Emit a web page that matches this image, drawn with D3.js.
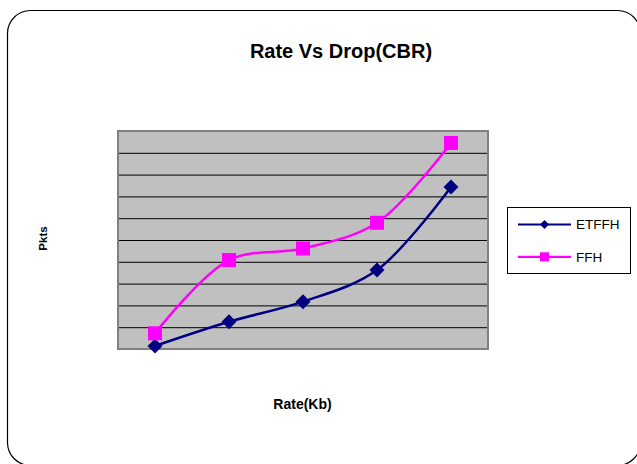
<!DOCTYPE html>
<html>
<head>
<meta charset="utf-8">
<script src="https://cdn.jsdelivr.net/npm/d3@7"></script>
<style>
  html, body { margin: 0; padding: 0; background: #fff; }
  svg { display: block; font-family: Arial, "Liberation Sans", sans-serif; }
</style>
</head>
<body>
<svg id="chart" width="637" height="464"></svg>
<script>
// Rate vs packet drop, CBR traffic
const rates = ["R1", "R2", "R3", "R4", "R5"];
const etffh = [0.14, 1.25, 2.17, 3.62, 7.43];
const ffh = [0.72, 4.08, 4.61, 5.79, 9.45];
const yDomain = [0, 10];
const gridCount = 10;

const series = [
  { name: "ETFFH", values: etffh, color: "#000080", marker: "diamond" },
  { name: "FFH", values: ffh, color: "#FF00FF", marker: "square" }
];

const svg = d3.select("#chart");

// outer rounded frame
svg.append("rect")
  .attr("x", 7.5).attr("y", 10.5)
  .attr("width", 633).attr("height", 455)
  .attr("rx", 23).attr("ry", 23)
  .attr("fill", "#fff").attr("stroke", "#000").attr("stroke-width", 1.2);

const plot = { left: 118, top: 131, right: 488, bottom: 349 };

const x = d3.scalePoint().domain(rates)
  .range([plot.left, plot.right]).padding(0.5);
const y = d3.scaleLinear().domain(yDomain)
  .range([plot.bottom, plot.top]);

// plot area
svg.append("rect")
  .attr("x", plot.left).attr("y", plot.top)
  .attr("width", plot.right - plot.left).attr("height", plot.bottom - plot.top)
  .attr("fill", "#C0C0C0");

// horizontal gridlines
const grid = svg.append("g")
  .attr("transform", `translate(${plot.left},0)`)
  .call(d3.axisLeft(y).ticks(gridCount)
    .tickSize(-(plot.right - plot.left)).tickFormat(""));
grid.select(".domain").remove();
grid.selectAll(".tick line")
  .attr("stroke", "#000").attr("stroke-width", 1)
  .filter(d => d === yDomain[0] || d === yDomain[1]).remove();

svg.append("rect")
  .attr("x", plot.left).attr("y", plot.top)
  .attr("width", plot.right - plot.left).attr("height", plot.bottom - plot.top)
  .attr("fill", "none").attr("stroke", "#808080").attr("stroke-width", 2);

const line = d3.line()
  .x((d, i) => x(rates[i]))
  .y(d => y(d))
  .curve(d3.curveCatmullRom.alpha(0.5));

function drawMarker(g, type, cx, cy, size, color) {
  if (type === "diamond") {
    const h = size / 2;
    g.append("path")
      .attr("d", `M${cx},${cy - h}L${cx + h},${cy}L${cx},${cy + h}L${cx - h},${cy}Z`)
      .attr("fill", color);
  } else {
    g.append("rect")
      .attr("x", cx - size / 2).attr("y", cy - size / 2)
      .attr("width", size).attr("height", size)
      .attr("fill", color);
  }
}

series.forEach(s => {
  const g = svg.append("g");
  g.append("path")
    .datum(s.values)
    .attr("d", line)
    .attr("fill", "none")
    .attr("stroke", s.color)
    .attr("stroke-width", 2.5);
  s.values.forEach((v, i) => {
    drawMarker(g, s.marker, x(rates[i]), y(v), s.marker === "diamond" ? 15 : 14, s.color);
  });
});

// title and axis titles
svg.append("text")
  .attr("x", 341).attr("y", 57.5)
  .attr("text-anchor", "middle")
  .attr("font-size", 20).attr("font-weight", "bold")
  .text("Rate Vs Drop(CBR)");

svg.append("text")
  .attr("x", 302.5).attr("y", 408.5)
  .attr("text-anchor", "middle")
  .attr("font-size", 14).attr("font-weight", "bold")
  .text("Rate(Kb)");

svg.append("text")
  .attr("transform", "translate(47,238.5) rotate(-90)")
  .attr("text-anchor", "middle")
  .attr("font-size", 11.5).attr("font-weight", "bold")
  .text("Pkts");

// legend
const legend = svg.append("g");
legend.append("rect")
  .attr("x", 507.5).attr("y", 207.5)
  .attr("width", 123).attr("height", 66)
  .attr("fill", "#fff").attr("stroke", "#000").attr("stroke-width", 1);

series.forEach((s, i) => {
  const ly = 224.5 + i * 32.3;
  legend.append("line")
    .attr("x1", 518).attr("x2", 571)
    .attr("y1", ly).attr("y2", ly)
    .attr("stroke", s.color).attr("stroke-width", 2.2);
  drawMarker(legend, s.marker, 544.5, ly, 9, s.color);
  legend.append("text")
    .attr("x", 576).attr("y", ly + 4.8)
    .attr("font-size", 13.5)
    .text(s.name);
});
</script>
</body>
</html>
